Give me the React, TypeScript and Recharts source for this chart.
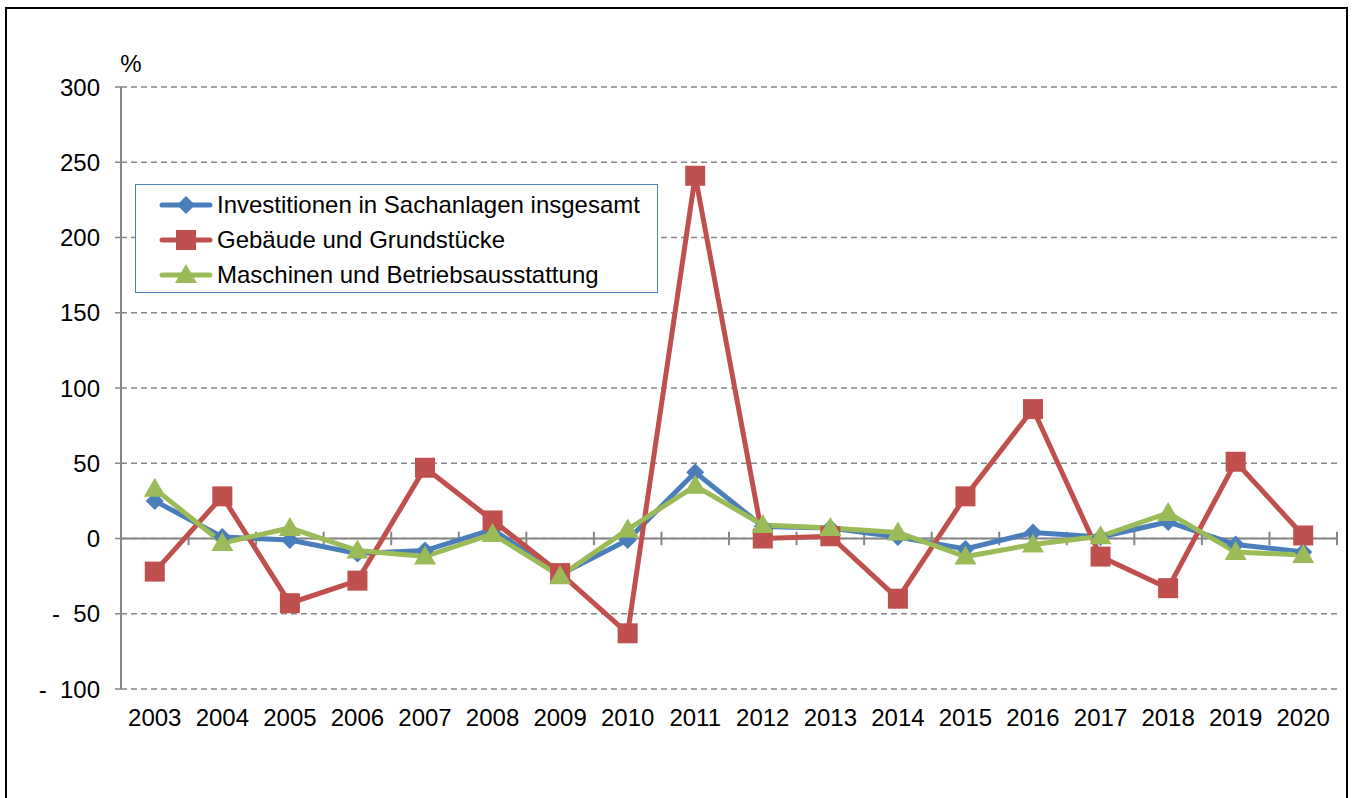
import React from "react";
import {
  LineChart,
  Line,
  XAxis,
  YAxis,
  CartesianGrid,
  Legend,
  ReferenceLine,
} from "recharts";

const years = [
  2003, 2004, 2005, 2006, 2007, 2008, 2009, 2010, 2011, 2012, 2013, 2014, 2015,
  2016, 2017, 2018, 2019, 2020,
];
const investTotal = [25, 1, -1, -10, -8, 6, -24, -1, 44, 8, 7, 1, -7, 4, 1, 11, -4, -9];
const gebaeude = [-22, 28, -43, -28, 47, 12, -23, -63, 241, 0, 1.5, -40, 28, 86, -12, -33, 51, 2];
const maschinen = [33, -3, 7, -8, -12, 3, -25, 6, 35, 9, 7, 4, -12, -4, 1.5, 17, -9, -11];
const yTicks = [-100, -50, 0, 50, 100, 150, 200, 250, 300];

const seriesNames = [
  "Investitionen in Sachanlagen insgesamt",
  "Gebäude und Grundstücke",
  "Maschinen und Betriebsausstattung",
];

const data = years.map((year, i) => ({
  year,
  total: investTotal[i],
  gebaeude: gebaeude[i],
  maschinen: maschinen[i],
}));

// tick marks between the years on the zero line
const boundaries = years.map((y) => y + 0.5);

const FONT = '"Liberation Sans", Arial, sans-serif';
const FS = 24;
const BLUE = "#4a7ebb";
const RED = "#c0504d";
const GREEN = "#9bbb59";
const GRAY = "#868686";

function marker(kind: string, cx: number, cy: number, color: string) {
  if (kind === "diamond") {
    const r = 9;
    return (
      <polygon
        points={`${cx},${cy - r} ${cx + r},${cy} ${cx},${cy + r} ${cx - r},${cy}`}
        fill={color}
      />
    );
  }
  if (kind === "square") {
    return <rect x={cx - 10} y={cy - 10} width={20} height={20} fill={color} />;
  }
  return (
    <polygon
      points={`${cx},${cy - 11} ${cx + 11},${cy + 8} ${cx - 11},${cy + 8}`}
      fill={color}
    />
  );
}

const makeDot = (kind: string, color: string) => (props: any) => {
  const { cx, cy, index } = props;
  return <g key={kind + index}>{marker(kind, cx, cy, color)}</g>;
};

const legendItems = [
  { name: seriesNames[0], color: BLUE, kind: "diamond" },
  { name: seriesNames[1], color: RED, kind: "square" },
  { name: seriesNames[2], color: GREEN, kind: "triangle" },
];

function LegendBox() {
  return (
    <div
      style={{
        width: 523,
        height: 109,
        boxSizing: "border-box",
        border: "1.5px solid #4f81bd",
        background: "#fff",
        paddingTop: 2,
        paddingLeft: 23,
      }}
    >
      {legendItems.map((it) => (
        <div
          key={it.name}
          style={{ display: "flex", alignItems: "center", height: 35 }}
        >
          <svg width={58} height={24}>
            <line x1={3} y1={12} x2={51} y2={12} stroke={it.color} strokeWidth={5} strokeLinecap="round" />
            {marker(it.kind, 27, 12, it.color)}
          </svg>
          <span style={{ fontFamily: FONT, fontSize: FS, color: "#000", whiteSpace: "nowrap" }}>{it.name}</span>
        </div>
      ))}
    </div>
  );
}

function YTick(props: any) {
  const { x, y, payload } = props;
  const v = payload.value;
  const label = v < 0 ? "-\u00A0\u00A0" + Math.abs(v) : String(v);
  return (
    <text x={x} y={y} dy="0.355em" textAnchor="end" fontFamily={FONT} fontSize={FS} fill="#000">
      {label}
    </text>
  );
}

function PercentLabel(props: any) {
  const { viewBox } = props;
  return (
    <text
      x={viewBox.x + viewBox.width + 10}
      y={viewBox.y - 15}
      textAnchor="middle"
      fontFamily={FONT}
      fontSize={FS}
      fill="#000"
    >
      %
    </text>
  );
}

export default function App() {
  return (
    <div style={{ position: "absolute", left: 0, top: 0, width: 1352, height: 798, background: "#fff", overflow: "hidden" }}>
      <div
        style={{
          position: "absolute",
          left: 5,
          top: 7,
          width: 1343,
          height: 820,
          border: "2px solid #000",
          boxSizing: "border-box",
        }}
      />
      <div style={{ position: "absolute", left: 0, top: 0 }}>
        <LineChart
          width={1352}
          height={798}
          data={data}
          margin={{ top: 87, right: 15, bottom: 69, left: 0 }}
        >
          <CartesianGrid vertical={false} stroke={GRAY} strokeDasharray="6 4" strokeWidth={1.5} />
          <XAxis
            dataKey="year"
            type="number"
            domain={[2002.5, 2020.5]}
            ticks={years}
            interval={0}
            axisLine={false}
            tickLine={false}
            tickSize={0}
            tickMargin={20}
            height={40}
            tick={{ fontFamily: FONT, fontSize: FS, fill: "#000" }}
          />
          <YAxis
            domain={[-100, 300]}
            ticks={yTicks}
            interval={0}
            width={121}
            axisLine={{ stroke: GRAY, strokeWidth: 2 }}
            tickLine={{ stroke: GRAY, strokeWidth: 1.5 }}
            tickSize={6}
            tickMargin={15}
            tick={<YTick />}
            label={<PercentLabel />}
          />
          <ReferenceLine y={0} stroke={GRAY} strokeWidth={2} />
          {boundaries.map((b) => (
            <ReferenceLine
              key={b}
              segment={[
                { x: b, y: -4.5 },
                { x: b, y: 4.5 },
              ]}
              stroke={GRAY}
              strokeWidth={2}
            />
          ))}
          <Legend
            layout="vertical"
            verticalAlign="middle"
            align="center"
            wrapperStyle={{ position: "absolute", left: 135, top: 184, width: 523, height: 109 }}
            content={() => <LegendBox />}
          />
          <Line
            dataKey="total"
            name={seriesNames[0]}
            type="linear"
            stroke={BLUE}
            strokeWidth={5}
            dot={makeDot("diamond", BLUE)}
            activeDot={false}
            isAnimationActive={false}
          />
          <Line
            dataKey="gebaeude"
            name={seriesNames[1]}
            type="linear"
            stroke={RED}
            strokeWidth={5}
            dot={makeDot("square", RED)}
            activeDot={false}
            isAnimationActive={false}
          />
          <Line
            dataKey="maschinen"
            name={seriesNames[2]}
            type="linear"
            stroke={GREEN}
            strokeWidth={5}
            dot={makeDot("triangle", GREEN)}
            activeDot={false}
            isAnimationActive={false}
          />
        </LineChart>
      </div>
    </div>
  );
}
